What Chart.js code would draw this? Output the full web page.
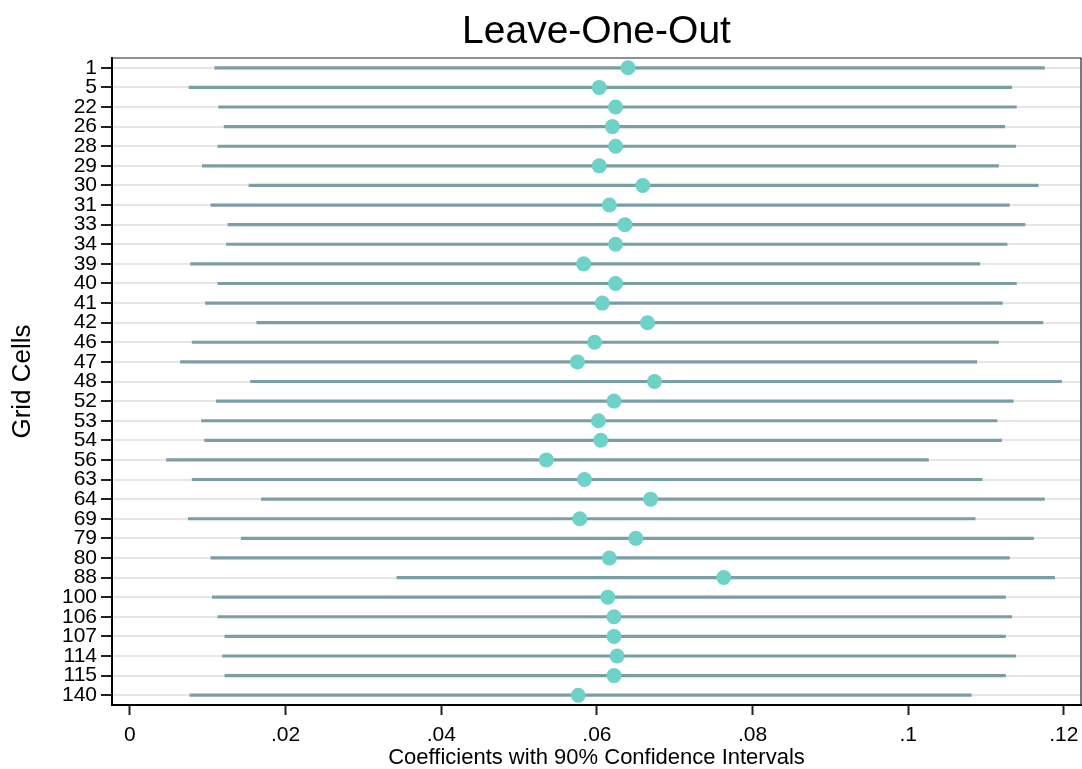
<!DOCTYPE html>
<html>
<head>
<meta charset="utf-8">
<script src="https://cdn.jsdelivr.net/npm/chart.js@4"></script>
<style>
  html, body { margin: 0; padding: 0; background: #fff; }
  #wrap { width: 1082px; height: 769px; }
</style>
</head>
<body>
<div id="wrap"><canvas id="loo"></canvas></div>
<script>
// grid cells left out, in plot order (top to bottom)
const cells = ['1','5','22','26','28','29','30','31','33','34','39','40','41','42','46','47','48','52','53','54','56','63','64','69','79','80','88','100','106','107','114','115','140'];
// point estimates
const coef = [0.0640,0.0603,0.0624,0.0620,0.0624,0.0603,0.0659,0.0616,0.0636,0.0624,0.0583,0.0624,0.0607,0.0665,0.0597,0.0575,0.0674,0.0622,0.0602,0.0605,0.0535,0.0584,0.0669,0.0578,0.0650,0.0616,0.0763,0.0614,0.0622,0.0622,0.0626,0.0622,0.0576];
// 90% CI bounds
const ciLow = [0.0109,0.0076,0.0114,0.0121,0.0113,0.0093,0.0153,0.0104,0.0126,0.0124,0.0078,0.0113,0.0097,0.0163,0.0080,0.0065,0.0155,0.0111,0.0092,0.0096,0.0047,0.0080,0.0169,0.0075,0.0143,0.0104,0.0343,0.0106,0.0113,0.0122,0.0119,0.0122,0.0077];
const ciHigh = [0.1175,0.1133,0.1139,0.1124,0.1138,0.1116,0.1167,0.1130,0.1150,0.1127,0.1092,0.1139,0.1121,0.1173,0.1116,0.1088,0.1197,0.1135,0.1114,0.1120,0.1026,0.1095,0.1175,0.1086,0.1161,0.1130,0.1188,0.1125,0.1133,0.1125,0.1138,0.1125,0.1081];
// x axis ticks
const xTickValues = [0, 0.02, 0.04, 0.06, 0.08, 0.1, 0.12];
const xTickLabels = ['0', '.02', '.04', '.06', '.08', '.1', '.12'];

const FONT = "'Liberation Sans', Arial, Helvetica, sans-serif";

// outline round the plot region (top + right sides)
const frame = {
  id: 'frame',
  afterDraw(chart) {
    const a = chart.chartArea, ctx = chart.ctx;
    ctx.save();
    ctx.strokeStyle = '#222';
    ctx.lineWidth = 1.2;
    ctx.beginPath();
    ctx.moveTo(a.left, a.top);
    ctx.lineTo(a.right, a.top);
    ctx.lineTo(a.right, a.bottom);
    ctx.stroke();
    ctx.restore();
  }
};

new Chart(document.getElementById('loo'), {
  type: 'bar',
  data: {
    labels: cells,
    datasets: [
      {
        type: 'line',
        indexAxis: 'y',
        label: 'Coefficient',
        data: coef,
        showLine: false,
        pointRadius: 7.5,
        pointBackgroundColor: '#6dd2c8',
        pointBorderWidth: 0,
        order: 0
      },
      {
        type: 'bar',
        label: '90% CI',
        data: cells.map((c, i) => [ciLow[i], ciHigh[i]]),
        backgroundColor: '#7b9ea5',
        barThickness: 2.5,
        borderSkipped: false,
        order: 1
      }
    ]
  },
  options: {
    indexAxis: 'y',
    responsive: true,
    maintainAspectRatio: false,
    animation: false,
    layout: { autoPadding: false, padding: { left: 0, right: 1, top: 0, bottom: 0 } },
    plugins: {
      legend: { display: false },
      tooltip: { enabled: false },
      title: {
        display: true,
        text: 'Leave-One-Out',
        fullSize: false,
        color: '#000',
        font: { family: FONT, size: 39, weight: 'normal' },
        padding: { top: 9, bottom: 2.2 }
      }
    },
    scales: {
      x: {
        type: 'linear',
        min: -0.0023,
        max: 0.1222,
        afterBuildTicks: (scale) => { scale.ticks = xTickValues.map(v => ({ value: v })); },
        afterFit: (scale) => { scale.height = 64; scale.paddingLeft = 0; scale.paddingRight = 0; },
        border: { display: true, color: '#000', width: 2 },
        grid: { drawOnChartArea: false, drawTicks: true, tickLength: 10, tickColor: '#222', tickWidth: 2 },
        ticks: {
          color: '#000',
          font: { family: FONT, size: 21 },
          padding: 8,
          callback: (v, i) => xTickLabels[i]
        },
        title: {
          display: true,
          text: 'Coefficients with 90% Confidence Intervals',
          color: '#000',
          font: { family: FONT, size: 22, lineHeight: 1.0 },
          padding: { top: 0, bottom: 0 }
        }
      },
      y: {
        type: 'category',
        offset: true,
        afterFit: (scale) => { scale.width = 112; },
        border: { display: true, color: '#000', width: 2 },
        grid: { offset: false, color: '#e6e6e6', lineWidth: 2, drawTicks: true, tickLength: 11, tickColor: '#222', tickWidth: 2 },
        ticks: {
          autoSkip: false,
          color: '#000',
          font: { family: FONT, size: 21 },
          padding: 4
        },
        title: {
          display: true,
          text: 'Grid Cells',
          color: '#000',
          font: { family: FONT, size: 26 },
          padding: { top: 7, bottom: 0 }
        }
      }
    }
  },
  plugins: [frame]
});
</script>
</body>
</html>
